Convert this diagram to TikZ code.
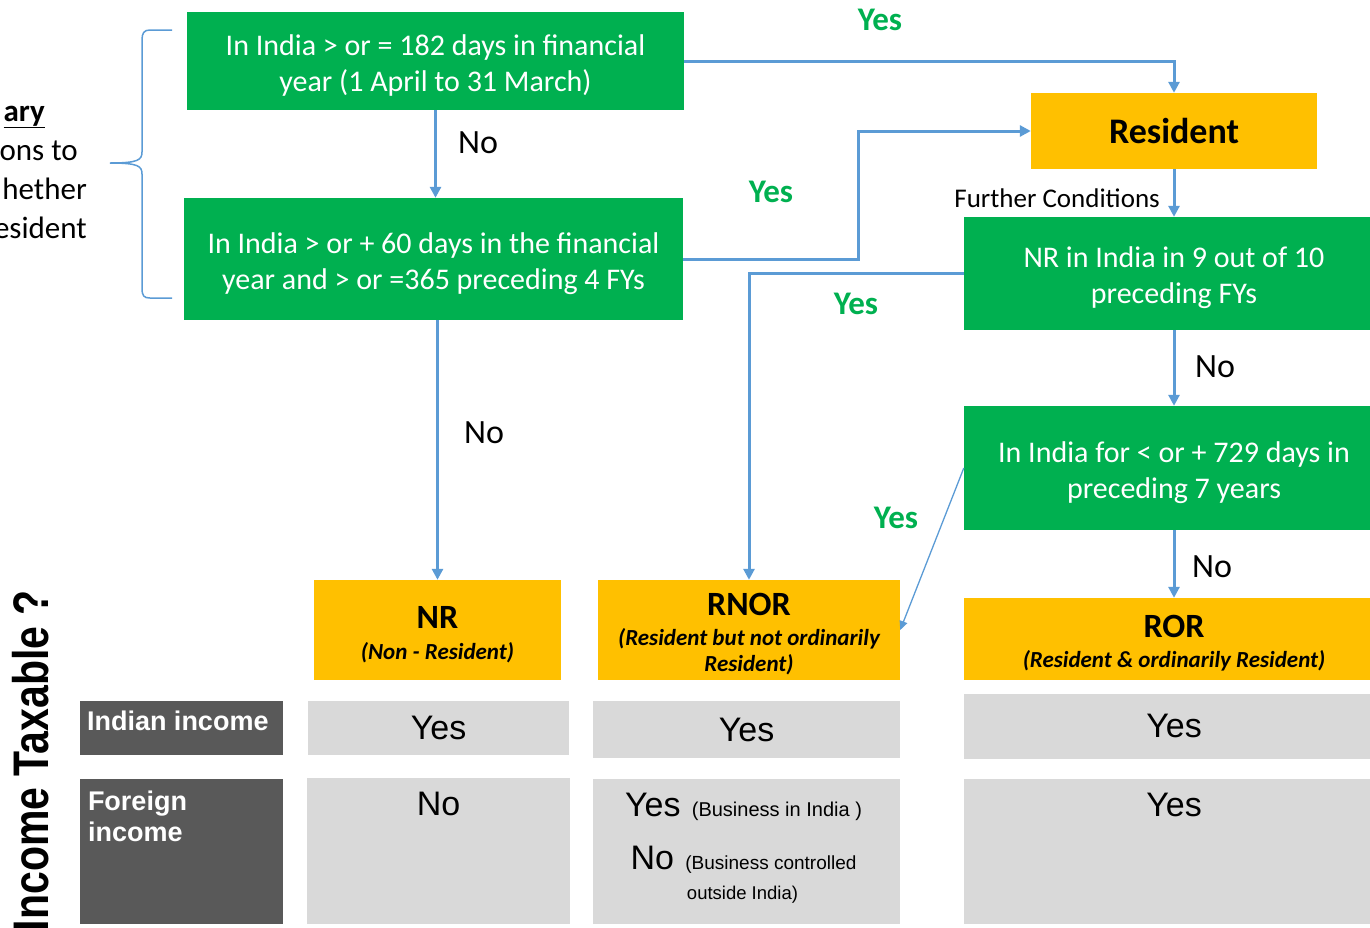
\documentclass[tikz,border=0pt]{standalone}
\usepackage{fontspec}
\setmainfont{Carlito}
\newfontfamily\arialfont{Liberation Sans}
\usetikzlibrary{arrows.meta,positioning}
\definecolor{condgreen}{HTML}{00B050}
\definecolor{statorange}{HTML}{FFC000}
\definecolor{linkblue}{HTML}{5B9BD5}
\definecolor{cellgray}{HTML}{D9D9D9}
\definecolor{labgray}{HTML}{595959}
\newcommand\topgap[1]{\rule{0pt}{#1}}

\begin{document}
\begin{tikzpicture}[
x=1pt,y=-1pt,
every node/.style={inner sep=0pt,align=center},
cond/.style={fill=condgreen,text=white,font=\fontsize{30}{36}\selectfont},
statbox/.style={fill=statorange},
stat/.style={statbox,font=\bfseries\itshape\fontsize{23}{26}\selectfont},
arr/.style={draw=linkblue,line width=3pt,-{Triangle[length=11pt,width=11pt]}},
thin/.style={draw=linkblue,line width=1.3pt,-{Triangle[length=9pt,width=8pt]}},
yes/.style={text=condgreen,font=\bfseries\fontsize{33}{36}\selectfont},
no/.style={font=\fontsize{34}{36}\selectfont},
cell/.style={fill=cellgray},
rowlab/.style={fill=labgray},
rowtext/.style={text=white,align=left,font=\arialfont\bfseries\fontsize{27}{31}\selectfont},
ans/.style={font=\arialfont\fontsize{34}{38}\selectfont},
side/.style={font=\fontsize{31}{38}\selectfont}
]
\useasboundingbox (0,0) rectangle (1370,927);

\node[cond,minimum width=497pt,minimum height=98pt] (q182) at (435.5,61) {\topgap{29pt}In India > or = 182 days in financial\\year (1 April to 31 March)};
\node[cond,minimum width=499pt,minimum height=122pt] (q60) at (433.5,259) {\topgap{30pt}In India > or + 60 days in the financial\\year and > or =365 preceding 4 FYs};
\node[statbox,minimum width=286pt,minimum height=76pt,font=\bfseries\fontsize{36}{40}\selectfont] (res) at (1174,131) {Resident};
\node[cond,minimum width=420pt,minimum height=113pt] (q910) at (1174,273.5) {\topgap{30pt}NR in India in 9 out of 10\\preceding FYs};
\node[cond,minimum width=420pt,minimum height=124pt] (q729) at (1174,468) {\topgap{30pt}In India for < or + 729 days in\\preceding 7 years};
\node[stat,minimum width=247pt,minimum height=100pt] (nr) at (437.5,630) {\topgap{31pt}{\upshape\fontsize{34}{38}\selectfont NR}\\[5pt](Non - Resident)};
\node[stat,minimum width=302pt,minimum height=100pt] (rnor) at (749,630) {\topgap{31pt}{\upshape\fontsize{34}{38}\selectfont RNOR}\\[4pt](Resident but not ordinarily\\Resident)};
\node[stat,minimum width=420pt,minimum height=82pt] (ror) at (1174,639) {\topgap{31pt}{\upshape\fontsize{34}{38}\selectfont ROR}\\[4pt](Resident \& ordinarily Resident)};

\draw[arr] (q182.east) -| (res.north);
\draw[arr] (q182.south) -- (q182.south |- q60.north);
\draw[arr] (q60.east) -- ++(175,0) |- (res.west);
\draw[arr] (res.south) -- (q910.north);
\draw[arr] (q910.west) -| (rnor.north);
\draw[arr] (q910.south) -- (q729.north);
\draw[thin] (q729.west) -- (rnor.east);
\draw[arr] (q729.south) -- (ror.north);
\draw[arr] (q60.south -| nr.north) -- (nr.north);

\node[yes] (yes1) at (880,20) {Yes};
\node[yes] (yes2) at (771,192) {Yes};
\node[yes] (yes3) at (856,304) {Yes};
\node[yes] (yes4) at (896,518) {Yes};
\node[no] (no1) at (478,143) {No};
\node[no] (no2) at (484,433) {No};
\node[no] (no3) at (1215,367) {No};
\node[no] (no4) at (1212,567) {No};
\node[font=\fontsize{27}{30}\selectfont,anchor=east] (further) at (1160,198) {Further Conditions};

\draw[linkblue,line width=1.5pt] (172,30) -- (150,30) .. controls (144,30) and (142,33) .. (142,40) -- (142,152) .. controls (142,160) and (138,163) .. (110,163) .. controls (138,163) and (142,166) .. (142,174) -- (142,288) .. controls (142,296) and (144,298) .. (150,298) -- (172,298);
\node[side,anchor=east] (pre1) at (45,117) {\underline{\textbf{ary}}};
\node[side,anchor=east] (pre2) at (78,151) {ons to};
\node[side,anchor=east] (pre3) at (87,189) {hether};
\node[side,anchor=east] (pre4) at (87,228) {esident};

\node[rotate=90,anchor=east,font=\arialfont\bfseries\fontsize{50}{54}\selectfont] (taxq) at (31,590) {\scalebox{0.82}[1]{Income Taxable ?}};

\node[rowlab,minimum width=203pt,minimum height=54pt] (lblin) at (181.5,728) {};
\node[rowlab,minimum width=203pt,minimum height=145pt] (lblfo) at (181.5,851.5) {};
\node[rowtext,below right=10pt and 7pt of lblin.north west] (txtin) {Indian income};
\node[rowtext,below right=12pt and 8pt of lblfo.north west] (txtfo) {Foreign\\income};

\node[cell,ans,minimum width=261pt,minimum height=54pt] (nrin) at (438.5,728) {Yes};
\node[cell,ans,minimum width=307pt,minimum height=57pt] (rnorin) at (746.5,729.5) {Yes};
\node[cell,ans,minimum width=420pt,minimum height=65pt] (rorin) at (1174,726) {Yes};
\node[cell,minimum width=263pt,minimum height=146pt] (nrfo) at (438.5,851) {};
\node[cell,minimum width=307pt,minimum height=145pt] (rnorfo) at (746.5,851.5) {};
\node[cell,minimum width=420pt,minimum height=145pt] (rorfo) at (1174,851.5) {};
\node[ans,below=14pt of nrfo.north] (nrfotxt) {No};
\node[ans,below=14pt of rorfo.north] (rorfotxt) {Yes};
\node[ans,below=14pt of rnorfo.north,xshift=-3pt] (rnoryes) {Yes\,\,{\fontsize{20}{22}\selectfont(Business in India )}};
\node[ans,below=67pt of rnorfo.north,xshift=-3pt] (rnorno) {No\,\,{\fontsize{19}{22}\selectfont(Business controlled}};
\node[font=\arialfont\fontsize{18.5}{22}\selectfont] (rnorout) at (742.5,895) {outside India)};
\end{tikzpicture}
\end{document}
